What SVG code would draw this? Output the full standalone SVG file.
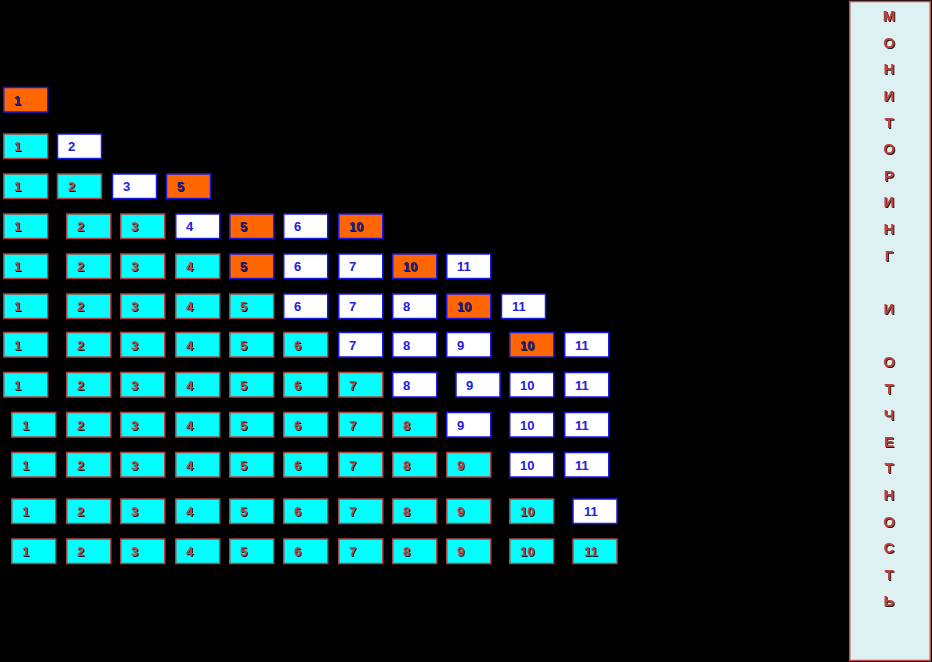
<svg xmlns="http://www.w3.org/2000/svg" width="932" height="662" viewBox="0 0 932 662">
<defs>
<filter id="sh" x="-20%" y="-20%" width="140%" height="140%"><feDropShadow dx="1" dy="1" stdDeviation="0.3" flood-color="#1a1a1a" flood-opacity="1"/></filter>
<style>
.cy{fill:#00FFFF;stroke:#B0443E;stroke-width:1.5}
.or{fill:#FF6600;stroke:#1A1AE6;stroke-width:1.5}
.wh{fill:#FFFFFF;stroke:#1A1AE6;stroke-width:1.5}
text{font-family:"Liberation Sans",Arial,sans-serif;font-weight:bold;font-size:13px}
.tc{fill:#B84A44;filter:url(#sh)}
.to{fill:#1A1A90;filter:url(#sh)}
.tw{fill:#2020DD}
.side{fill:#DDF1F2;stroke:#C0504D;stroke-width:1.5}
.sl{fill:#C0403C;font-size:15px;text-anchor:middle;filter:url(#sh)}
</style>
</defs>
<rect x="0" y="0" width="932" height="662" fill="#000000"/>

<g id="row1">
<g id="r1c1"><rect class="or" x="3.75" y="87.5" width="44" height="24.5"/><text class="to" x="14" y="104.7">1</text></g>
</g>

<g id="row2">
<g id="r2c1"><rect class="cy" x="3.75" y="134" width="44" height="24.5"/><text class="tc" x="14" y="151.3">1</text></g>
<g id="r2c2"><rect class="wh" x="57.5" y="134" width="44" height="24.5"/><text class="tw" x="68" y="151.3">2</text></g>
</g>

<g id="row3">
<g id="r3c1"><rect class="cy" x="3.75" y="174" width="44" height="24.5"/><text class="tc" x="14" y="191.3">1</text></g>
<g id="r3c2"><rect class="cy" x="57.5" y="174" width="44" height="24.5"/><text class="tc" x="68" y="191.3">2</text></g>
<g id="r3c3"><rect class="wh" x="112.5" y="174" width="44" height="24.5"/><text class="tw" x="123" y="191.3">3</text></g>
<g id="r3c4"><rect class="or" x="166.5" y="174" width="44" height="24.5"/><text class="to" x="177" y="191.3">5</text></g>
</g>

<g id="row4">
<g id="r4c1"><rect class="cy" x="3.75" y="214" width="44" height="24.5"/><text class="tc" x="14" y="231.3">1</text></g>
<g id="r4c2"><rect class="cy" x="66.75" y="214" width="44" height="24.5"/><text class="tc" x="77" y="231.3">2</text></g>
<g id="r4c3"><rect class="cy" x="120.75" y="214" width="44" height="24.5"/><text class="tc" x="131" y="231.3">3</text></g>
<g id="r4c4"><rect class="wh" x="175.75" y="214" width="44" height="24.5"/><text class="tw" x="186" y="231.3">4</text></g>
<g id="r4c5"><rect class="or" x="229.75" y="214" width="44" height="24.5"/><text class="to" x="240" y="231.3">5</text></g>
<g id="r4c6"><rect class="wh" x="283.75" y="214" width="44" height="24.5"/><text class="tw" x="294" y="231.3">6</text></g>
<g id="r4c7"><rect class="or" x="338.75" y="214" width="44" height="24.5"/><text class="to" x="349" y="231.3">10</text></g>
</g>

<g id="row5">
<g id="r5c1"><rect class="cy" x="3.75" y="254" width="44" height="24.5"/><text class="tc" x="14" y="271.3">1</text></g>
<g id="r5c2"><rect class="cy" x="66.75" y="254" width="44" height="24.5"/><text class="tc" x="77" y="271.3">2</text></g>
<g id="r5c3"><rect class="cy" x="120.75" y="254" width="44" height="24.5"/><text class="tc" x="131" y="271.3">3</text></g>
<g id="r5c4"><rect class="cy" x="175.75" y="254" width="44" height="24.5"/><text class="tc" x="186" y="271.3">4</text></g>
<g id="r5c5"><rect class="or" x="229.75" y="254" width="44" height="24.5"/><text class="to" x="240" y="271.3">5</text></g>
<g id="r5c6"><rect class="wh" x="283.75" y="254" width="44" height="24.5"/><text class="tw" x="294" y="271.3">6</text></g>
<g id="r5c7"><rect class="wh" x="338.75" y="254" width="44" height="24.5"/><text class="tw" x="349" y="271.3">7</text></g>
<g id="r5c8"><rect class="or" x="392.75" y="254" width="44" height="24.5"/><text class="to" x="403" y="271.3">10</text></g>
<g id="r5c9"><rect class="wh" x="446.75" y="254" width="44" height="24.5"/><text class="tw" x="457" y="271.3">11</text></g>
</g>

<g id="row6">
<g id="r6c1"><rect class="cy" x="3.75" y="294" width="44" height="24.5"/><text class="tc" x="14" y="311.3">1</text></g>
<g id="r6c2"><rect class="cy" x="66.75" y="294" width="44" height="24.5"/><text class="tc" x="77" y="311.3">2</text></g>
<g id="r6c3"><rect class="cy" x="120.75" y="294" width="44" height="24.5"/><text class="tc" x="131" y="311.3">3</text></g>
<g id="r6c4"><rect class="cy" x="175.75" y="294" width="44" height="24.5"/><text class="tc" x="186" y="311.3">4</text></g>
<g id="r6c5"><rect class="cy" x="229.75" y="294" width="44" height="24.5"/><text class="tc" x="240" y="311.3">5</text></g>
<g id="r6c6"><rect class="wh" x="283.75" y="294" width="44" height="24.5"/><text class="tw" x="294" y="311.3">6</text></g>
<g id="r6c7"><rect class="wh" x="338.75" y="294" width="44" height="24.5"/><text class="tw" x="349" y="311.3">7</text></g>
<g id="r6c8"><rect class="wh" x="392.75" y="294" width="44" height="24.5"/><text class="tw" x="403" y="311.3">8</text></g>
<g id="r6c9"><rect class="or" x="446.75" y="294" width="44" height="24.5"/><text class="to" x="457" y="311.3">10</text></g>
<g id="r6c10"><rect class="wh" x="501.5" y="294" width="44" height="24.5"/><text class="tw" x="512" y="311.3">11</text></g>
</g>

<g id="row7">
<g id="r7c1"><rect class="cy" x="3.75" y="332.5" width="44" height="24.5"/><text class="tc" x="14" y="349.7">1</text></g>
<g id="r7c2"><rect class="cy" x="66.75" y="332.5" width="44" height="24.5"/><text class="tc" x="77" y="349.7">2</text></g>
<g id="r7c3"><rect class="cy" x="120.75" y="332.5" width="44" height="24.5"/><text class="tc" x="131" y="349.7">3</text></g>
<g id="r7c4"><rect class="cy" x="175.75" y="332.5" width="44" height="24.5"/><text class="tc" x="186" y="349.7">4</text></g>
<g id="r7c5"><rect class="cy" x="229.75" y="332.5" width="44" height="24.5"/><text class="tc" x="240" y="349.7">5</text></g>
<g id="r7c6"><rect class="cy" x="283.75" y="332.5" width="44" height="24.5"/><text class="tc" x="294" y="349.7">6</text></g>
<g id="r7c7"><rect class="wh" x="338.75" y="332.5" width="44" height="24.5"/><text class="tw" x="349" y="349.7">7</text></g>
<g id="r7c8"><rect class="wh" x="392.75" y="332.5" width="44" height="24.5"/><text class="tw" x="403" y="349.7">8</text></g>
<g id="r7c9"><rect class="wh" x="446.75" y="332.5" width="44" height="24.5"/><text class="tw" x="457" y="349.7">9</text></g>
<g id="r7c10"><rect class="or" x="509.75" y="332.5" width="44" height="24.5"/><text class="to" x="520" y="349.7">10</text></g>
<g id="r7c11"><rect class="wh" x="564.75" y="332.5" width="44" height="24.5"/><text class="tw" x="575" y="349.7">11</text></g>
</g>

<g id="row8">
<g id="r8c1"><rect class="cy" x="3.75" y="372.5" width="44" height="24.5"/><text class="tc" x="14" y="389.7">1</text></g>
<g id="r8c2"><rect class="cy" x="66.75" y="372.5" width="44" height="24.5"/><text class="tc" x="77" y="389.7">2</text></g>
<g id="r8c3"><rect class="cy" x="120.75" y="372.5" width="44" height="24.5"/><text class="tc" x="131" y="389.7">3</text></g>
<g id="r8c4"><rect class="cy" x="175.75" y="372.5" width="44" height="24.5"/><text class="tc" x="186" y="389.7">4</text></g>
<g id="r8c5"><rect class="cy" x="229.75" y="372.5" width="44" height="24.5"/><text class="tc" x="240" y="389.7">5</text></g>
<g id="r8c6"><rect class="cy" x="283.75" y="372.5" width="44" height="24.5"/><text class="tc" x="294" y="389.7">6</text></g>
<g id="r8c7"><rect class="cy" x="338.75" y="372.5" width="44" height="24.5"/><text class="tc" x="349" y="389.7">7</text></g>
<g id="r8c8"><rect class="wh" x="392.75" y="372.5" width="44" height="24.5"/><text class="tw" x="403" y="389.7">8</text></g>
<g id="r8c9"><rect class="wh" x="456" y="372.5" width="44" height="24.5"/><text class="tw" x="466" y="389.7">9</text></g>
<g id="r8c10"><rect class="wh" x="509.75" y="372.5" width="44" height="24.5"/><text class="tw" x="520" y="389.7">10</text></g>
<g id="r8c11"><rect class="wh" x="564.75" y="372.5" width="44" height="24.5"/><text class="tw" x="575" y="389.7">11</text></g>
</g>

<g id="row9">
<g id="r9c1"><rect class="cy" x="11.75" y="412.5" width="44" height="24.5"/><text class="tc" x="22" y="429.7">1</text></g>
<g id="r9c2"><rect class="cy" x="66.75" y="412.5" width="44" height="24.5"/><text class="tc" x="77" y="429.7">2</text></g>
<g id="r9c3"><rect class="cy" x="120.75" y="412.5" width="44" height="24.5"/><text class="tc" x="131" y="429.7">3</text></g>
<g id="r9c4"><rect class="cy" x="175.75" y="412.5" width="44" height="24.5"/><text class="tc" x="186" y="429.7">4</text></g>
<g id="r9c5"><rect class="cy" x="229.75" y="412.5" width="44" height="24.5"/><text class="tc" x="240" y="429.7">5</text></g>
<g id="r9c6"><rect class="cy" x="283.75" y="412.5" width="44" height="24.5"/><text class="tc" x="294" y="429.7">6</text></g>
<g id="r9c7"><rect class="cy" x="338.75" y="412.5" width="44" height="24.5"/><text class="tc" x="349" y="429.7">7</text></g>
<g id="r9c8"><rect class="cy" x="392.75" y="412.5" width="44" height="24.5"/><text class="tc" x="403" y="429.7">8</text></g>
<g id="r9c9"><rect class="wh" x="446.75" y="412.5" width="44" height="24.5"/><text class="tw" x="457" y="429.7">9</text></g>
<g id="r9c10"><rect class="wh" x="509.75" y="412.5" width="44" height="24.5"/><text class="tw" x="520" y="429.7">10</text></g>
<g id="r9c11"><rect class="wh" x="564.75" y="412.5" width="44" height="24.5"/><text class="tw" x="575" y="429.7">11</text></g>
</g>

<g id="row10">
<g id="r10c1"><rect class="cy" x="11.75" y="452.5" width="44" height="24.5"/><text class="tc" x="22" y="469.7">1</text></g>
<g id="r10c2"><rect class="cy" x="66.75" y="452.5" width="44" height="24.5"/><text class="tc" x="77" y="469.7">2</text></g>
<g id="r10c3"><rect class="cy" x="120.75" y="452.5" width="44" height="24.5"/><text class="tc" x="131" y="469.7">3</text></g>
<g id="r10c4"><rect class="cy" x="175.75" y="452.5" width="44" height="24.5"/><text class="tc" x="186" y="469.7">4</text></g>
<g id="r10c5"><rect class="cy" x="229.75" y="452.5" width="44" height="24.5"/><text class="tc" x="240" y="469.7">5</text></g>
<g id="r10c6"><rect class="cy" x="283.75" y="452.5" width="44" height="24.5"/><text class="tc" x="294" y="469.7">6</text></g>
<g id="r10c7"><rect class="cy" x="338.75" y="452.5" width="44" height="24.5"/><text class="tc" x="349" y="469.7">7</text></g>
<g id="r10c8"><rect class="cy" x="392.75" y="452.5" width="44" height="24.5"/><text class="tc" x="403" y="469.7">8</text></g>
<g id="r10c9"><rect class="cy" x="446.75" y="452.5" width="44" height="24.5"/><text class="tc" x="457" y="469.7">9</text></g>
<g id="r10c10"><rect class="wh" x="509.75" y="452.5" width="44" height="24.5"/><text class="tw" x="520" y="469.7">10</text></g>
<g id="r10c11"><rect class="wh" x="564.75" y="452.5" width="44" height="24.5"/><text class="tw" x="575" y="469.7">11</text></g>
</g>

<g id="row11">
<g id="r11c1"><rect class="cy" x="11.75" y="499" width="44" height="24.5"/><text class="tc" x="22" y="516.3">1</text></g>
<g id="r11c2"><rect class="cy" x="66.75" y="499" width="44" height="24.5"/><text class="tc" x="77" y="516.3">2</text></g>
<g id="r11c3"><rect class="cy" x="120.75" y="499" width="44" height="24.5"/><text class="tc" x="131" y="516.3">3</text></g>
<g id="r11c4"><rect class="cy" x="175.75" y="499" width="44" height="24.5"/><text class="tc" x="186" y="516.3">4</text></g>
<g id="r11c5"><rect class="cy" x="229.75" y="499" width="44" height="24.5"/><text class="tc" x="240" y="516.3">5</text></g>
<g id="r11c6"><rect class="cy" x="283.75" y="499" width="44" height="24.5"/><text class="tc" x="294" y="516.3">6</text></g>
<g id="r11c7"><rect class="cy" x="338.75" y="499" width="44" height="24.5"/><text class="tc" x="349" y="516.3">7</text></g>
<g id="r11c8"><rect class="cy" x="392.75" y="499" width="44" height="24.5"/><text class="tc" x="403" y="516.3">8</text></g>
<g id="r11c9"><rect class="cy" x="446.75" y="499" width="44" height="24.5"/><text class="tc" x="457" y="516.3">9</text></g>
<g id="r11c10"><rect class="cy" x="509.75" y="499" width="44" height="24.5"/><text class="tc" x="520" y="516.3">10</text></g>
<g id="r11c11"><rect class="wh" x="573" y="499" width="44" height="24.5"/><text class="tw" x="584" y="516.3">11</text></g>
</g>

<g id="row12">
<g id="r12c1"><rect class="cy" x="11.75" y="539" width="44" height="24.5"/><text class="tc" x="22" y="556.3">1</text></g>
<g id="r12c2"><rect class="cy" x="66.75" y="539" width="44" height="24.5"/><text class="tc" x="77" y="556.3">2</text></g>
<g id="r12c3"><rect class="cy" x="120.75" y="539" width="44" height="24.5"/><text class="tc" x="131" y="556.3">3</text></g>
<g id="r12c4"><rect class="cy" x="175.75" y="539" width="44" height="24.5"/><text class="tc" x="186" y="556.3">4</text></g>
<g id="r12c5"><rect class="cy" x="229.75" y="539" width="44" height="24.5"/><text class="tc" x="240" y="556.3">5</text></g>
<g id="r12c6"><rect class="cy" x="283.75" y="539" width="44" height="24.5"/><text class="tc" x="294" y="556.3">6</text></g>
<g id="r12c7"><rect class="cy" x="338.75" y="539" width="44" height="24.5"/><text class="tc" x="349" y="556.3">7</text></g>
<g id="r12c8"><rect class="cy" x="392.75" y="539" width="44" height="24.5"/><text class="tc" x="403" y="556.3">8</text></g>
<g id="r12c9"><rect class="cy" x="446.75" y="539" width="44" height="24.5"/><text class="tc" x="457" y="556.3">9</text></g>
<g id="r12c10"><rect class="cy" x="509.75" y="539" width="44" height="24.5"/><text class="tc" x="520" y="556.3">10</text></g>
<g id="r12c11"><rect class="cy" x="573" y="539" width="44" height="24.5"/><text class="tc" x="584" y="556.3">11</text></g>
</g>

<g id="sidebar">
<rect class="side" x="849.75" y="1.5" width="80.5" height="659"/>
<text class="sl" x="889" y="21.2">М</text>
<text class="sl" x="889" y="47.8">О</text>
<text class="sl" x="889" y="74.4">Н</text>
<text class="sl" x="889" y="101">И</text>
<text class="sl" x="889" y="127.6">Т</text>
<text class="sl" x="889" y="154.2">О</text>
<text class="sl" x="889" y="180.8">Р</text>
<text class="sl" x="889" y="207.4">И</text>
<text class="sl" x="889" y="234">Н</text>
<text class="sl" x="889" y="260.6">Г</text>
<text class="sl" x="889" y="313.8">И</text>
<text class="sl" x="889" y="367">О</text>
<text class="sl" x="889" y="393.6">Т</text>
<text class="sl" x="889" y="420.2">Ч</text>
<text class="sl" x="889" y="446.8">Е</text>
<text class="sl" x="889" y="473.4">Т</text>
<text class="sl" x="889" y="500">Н</text>
<text class="sl" x="889" y="526.6">О</text>
<text class="sl" x="889" y="553.2">С</text>
<text class="sl" x="889" y="579.8">Т</text>
<text class="sl" x="889" y="606.4">Ь</text>
</g>
</svg>
